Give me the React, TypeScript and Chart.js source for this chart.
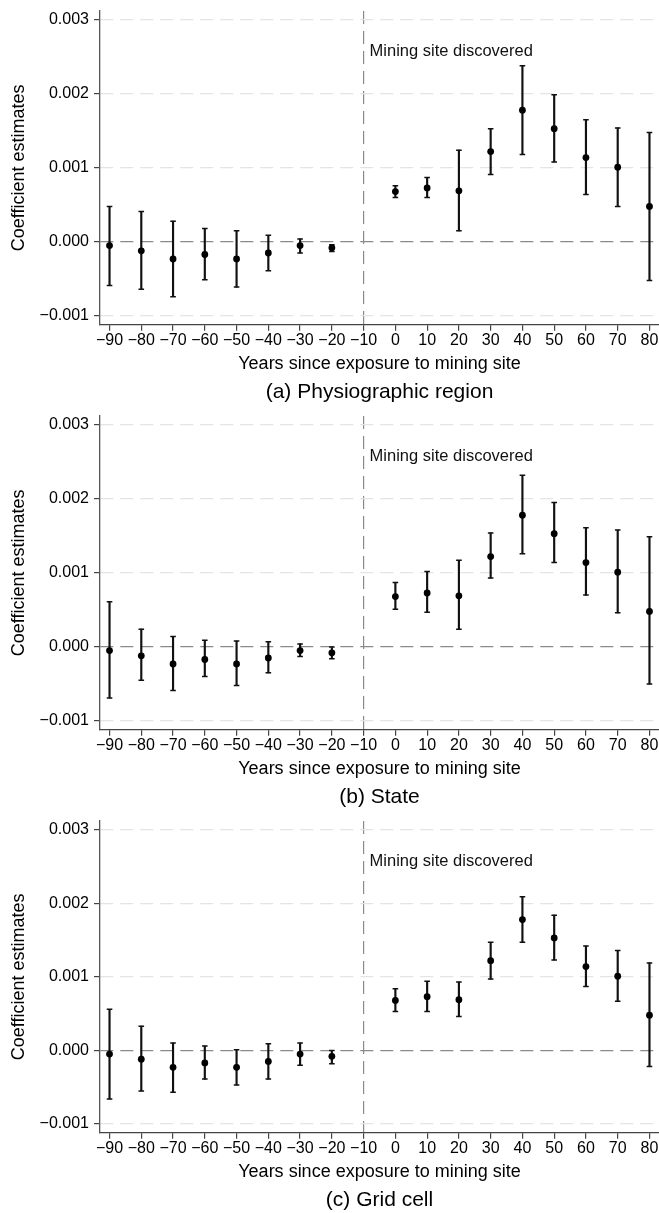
import React, { useEffect, useRef } from "react";
import { Chart, registerables } from "chart.js";

Chart.register(...registerables);

const FONT = "'Liberation Sans', Arial, Helvetica, sans-serif";

// ---- data ----
const years = [-90, -80, -70, -60, -50, -40, -30, -20, 0, 10, 20, 30, 40, 50, 60, 70, 80];
const estimates = [
  -0.00005, -0.00012, -0.00023, -0.00017, -0.00023, -0.00015, -0.00005, -0.00008,
  0.00068, 0.00073, 0.00069, 0.00122, 0.00178, 0.00153, 0.00114, 0.00101, 0.00048,
];

// (a) Physiographic region
const lowerA = [
  -0.00059, -0.00064, -0.00074, -0.00051, -0.00061, -0.00039, -0.00015, -0.00013,
  0.0006, 0.0006, 0.00015, 0.00091, 0.00118, 0.00108, 0.00064, 0.00048, -0.00052,
];
const upperA = [
  0.00048, 0.00041, 0.00028, 0.00018, 0.00015, 0.00009, 0.00004, -0.00004,
  0.00076, 0.00087, 0.00124, 0.00153, 0.00238, 0.00199, 0.00165, 0.00154, 0.00148,
];

// (b) State
const lowerB = [
  -0.00069, -0.00045, -0.00059, -0.0004, -0.00052, -0.00035, -0.00013, -0.00016,
  0.00051, 0.00047, 0.00024, 0.00093, 0.00126, 0.00114, 0.0007, 0.00046, -0.0005,
];
const upperB = [
  0.00061, 0.00024, 0.00014, 0.00009, 0.00008, 0.00007, 0.00004, 0.0,
  0.00087, 0.00102, 0.00117, 0.00154, 0.00232, 0.00195, 0.00161, 0.00158, 0.00149,
];

// (c) Grid cell
const lowerC = [
  -0.00066, -0.00055, -0.00057, -0.00039, -0.00047, -0.00039, -0.0002, -0.00018,
  0.00053, 0.00053, 0.00046, 0.00097, 0.00147, 0.00123, 0.00087, 0.00067, -0.00022,
];
const upperC = [
  0.00056, 0.00033, 0.0001, 0.00006, 0.00001, 0.00009, 0.0001, 0.0,
  0.00084, 0.00094, 0.00093, 0.00147, 0.00209, 0.00184, 0.00142, 0.00136, 0.00119,
];

const captions = ["(a) Physiographic region", "(b) State", "(c) Grid cell"];

const xTicks = [-90, -80, -70, -60, -50, -40, -30, -20, -10, 0, 10, 20, 30, 40, 50, 60, 70, 80];
const xTickLabels = [
  "\u221290", "\u221280", "\u221270", "\u221260", "\u221250", "\u221240", "\u221230", "\u221220", "\u221210",
  "0", "10", "20", "30", "40", "50", "60", "70", "80",
];
const yTicks = [-0.001, 0, 0.001, 0.002, 0.003];
const yTickLabels = ["\u22120.001", "0.000", "0.001", "0.002", "0.003"];

const xAxisTitle = "Years since exposure to mining site";
const yAxisTitle = "Coefficient estimates";
const eventYear = -10;
const annotationText = "Mining site discovered";
const annotationY = 0.00257;

const xMin = -93;
const xMax = 83;
const yMin = -0.00112;
const yMax = 0.00312;

const findIndex = (arr: number[], v: number) =>
  arr.findIndex((t) => Math.abs(t - v) < 1e-9);

const annotationPlugin = {
  id: "eventLabel",
  afterDatasetsDraw(chart: any) {
    const { ctx, scales } = chart;
    const x = scales.x;
    const y = scales.y;
    ctx.save();
    ctx.font = `16.5px ${FONT}`;
    ctx.fillStyle = "#111";
    ctx.textAlign = "left";
    ctx.textBaseline = "middle";
    ctx.fillText(annotationText, x.getPixelForValue(eventYear) + 6, y.getPixelForValue(annotationY));
    ctx.restore();
  },
};

function Panel({ lower, upper, caption, height }: { lower: number[]; upper: number[]; caption: string; height: number }) {
  const ref = useRef<HTMLCanvasElement | null>(null);

  useEffect(() => {
    if (!ref.current) return;
    const chart = new Chart(ref.current, {
      type: "scatter",
      data: {
        datasets: [
          {
            type: "scatter",
            data: years.map((x, i) => ({ x, y: estimates[i] })),
            pointRadius: 3.4,
            pointHoverRadius: 3.4,
            pointBackgroundColor: "#000",
            pointBorderWidth: 0,
          } as any,
          {
            type: "scatter",
            data: years.map((x, i) => ({ x, y: upper[i] })),
            pointStyle: "line",
            pointRadius: 2.8,
            pointHoverRadius: 2.8,
            pointBorderColor: "#111",
            pointBorderWidth: 1.5,
          } as any,
          {
            type: "scatter",
            data: years.map((x, i) => ({ x, y: lower[i] })),
            pointStyle: "line",
            pointRadius: 2.8,
            pointHoverRadius: 2.8,
            pointBorderColor: "#111",
            pointBorderWidth: 1.5,
          } as any,
          {
            type: "bar",
            data: years.map((x, i) => ({ x, y: [lower[i], upper[i]] })),
            backgroundColor: "#111",
            borderWidth: 0,
            barThickness: 1.5,
          } as any,
        ],
      },
      options: {
        animation: false,
        responsive: false,
        events: [],
        layout: { autoPadding: false, padding: { top: 11, left: 0, right: 0, bottom: 0 } },
        plugins: {
          legend: { display: false },
          tooltip: { enabled: false },
          title: {
            display: true,
            text: caption,
            position: "bottom",
            fullSize: false,
            align: "center",
            color: "#000",
            font: { size: 21, weight: "normal", family: FONT },
            padding: { top: 5, bottom: 0 },
          },
        },
        scales: {
          x: {
            type: "linear",
            min: xMin,
            max: xMax,
            offset: false,
            afterBuildTicks: (s: any) => {
              s.ticks = xTicks.map((value) => ({ value }));
            },
            afterFit: (s: any) => {
              s.height = 50;
              s.paddingLeft = 0;
              s.paddingRight = 0;
            },
            ticks: {
              autoSkip: false,
              maxRotation: 0,
              minRotation: 0,
              padding: 0,
              color: "#000",
              font: { size: 16, family: FONT },
              callback: (v: any) => xTickLabels[findIndex(xTicks, Number(v))],
            },
            grid: {
              offset: false,
              color: (c: any) => (c.tick && c.tick.value === eventYear ? "#8a8a8a" : "rgba(0,0,0,0)"),
              lineWidth: 1.2,
              tickColor: "#444",
              tickLength: 6,
              tickWidth: 1.2,
            },
            border: { display: true, color: "#444", width: 1.3, dash: [13, 7] },
            title: {
              display: true,
              text: xAxisTitle,
              color: "#000",
              font: { size: 18, family: FONT, weight: "normal" },
              padding: { top: 0, bottom: 0 },
            },
          },
          y: {
            type: "linear",
            min: yMin,
            max: yMax,
            afterBuildTicks: (s: any) => {
              s.ticks = yTicks.map((value) => ({ value }));
            },
            afterFit: (s: any) => {
              s.width = 100;
              s.paddingTop = 0;
              s.paddingBottom = 0;
            },
            ticks: {
              autoSkip: false,
              padding: 5,
              color: "#000",
              font: { size: 16, family: FONT },
              callback: (v: any) => yTickLabels[findIndex(yTicks, Number(v))],
            },
            grid: {
              offset: false,
              color: (c: any) => (c.tick && Math.abs(c.tick.value) < 1e-12 ? "#8a8a8a" : "#e4e4e4"),
              lineWidth: 1.2,
              tickColor: "#444",
              tickLength: 6,
              tickWidth: 1.2,
            },
            border: { display: true, color: "#555", width: 1.3, dash: [13, 7] },
            title: {
              display: true,
              text: yAxisTitle,
              color: "#000",
              font: { size: 18, family: FONT, weight: "normal" },
              padding: { top: 8, bottom: 0 },
            },
          },
        },
      } as any,
      plugins: [annotationPlugin],
    });
    return () => chart.destroy();
  }, [lower, upper, caption, height]);

  return <canvas ref={ref} width={659} height={height} style={{ display: "block", width: 659, height }} />;
}

export default function App() {
  return (
    <div style={{ position: "absolute", left: 0, top: 0, width: 659, background: "#fff" }}>
      <Panel lower={lowerA} upper={upperA} caption={captions[0]} height={405} />
      <Panel lower={lowerB} upper={upperB} caption={captions[1]} height={405} />
      <Panel lower={lowerC} upper={upperC} caption={captions[2]} height={403} />
    </div>
  );
}
